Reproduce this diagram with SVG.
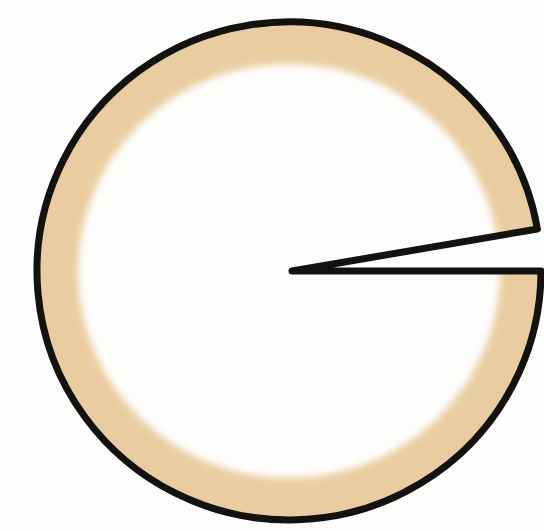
<svg xmlns="http://www.w3.org/2000/svg" width="544" height="531" viewBox="0 0 544 531">
  <defs>
    <filter id="soft" x="-10%" y="-10%" width="120%" height="120%">
      <feGaussianBlur stdDeviation="3.5"/>
    </filter>
    <clipPath id="inside">
      <ellipse cx="289" cy="271" rx="251" ry="248"/>
    </clipPath>
    <style>
      .outline { fill: none; stroke: #141210; stroke-width: 7; stroke-linejoin: round; stroke-linecap: round; }
      .band { fill: none; stroke: #E9CDA0; stroke-width: 56; }
    </style>
  </defs>
  <rect width="544" height="531" fill="#fdfdfb"/>
  <g id="cheese">
    <g clip-path="url(#inside)">
      <ellipse class="band" cx="289" cy="271" rx="239" ry="235" filter="url(#soft)"/>
    </g>
    <path d="M292 271 L548 225 L548 271 Z" fill="#fdfdfb"/>
    <path class="outline" d="M292 271 L537.4 229 A252 249 0 1 0 541 271 Z"/>
  </g>
</svg>
